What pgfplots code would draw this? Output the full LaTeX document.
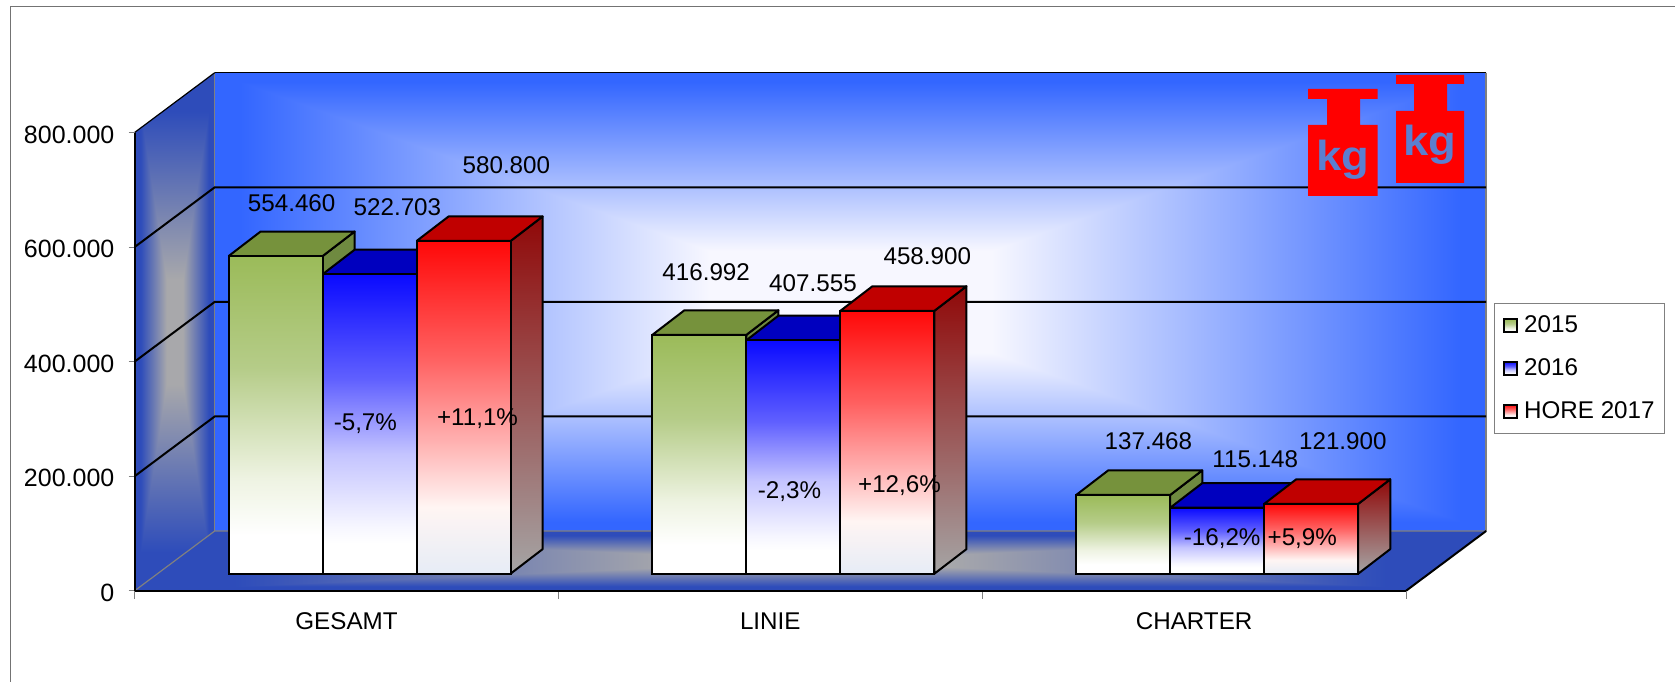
\documentclass[border=0pt]{standalone}
\usepackage{fontspec}
\setmainfont{Liberation Sans}
\usepackage{pgfplots}
\pgfplotsset{compat=1.18}
% colours
\definecolor{gA}{HTML}{9BBB59}\definecolor{gB}{HTML}{B5CC88}\definecolor{gC}{HTML}{EEF3E2}
\definecolor{bA}{HTML}{0A0AFF}\definecolor{bB}{HTML}{6060FF}\definecolor{bC}{HTML}{C4C4FF}\definecolor{bD}{HTML}{F6F6FF}
\definecolor{rA}{HTML}{FF0808}\definecolor{rB}{HTML}{FF6060}\definecolor{rC}{HTML}{FFB0B0}\definecolor{rD}{HTML}{FFF5F3}\definecolor{rE}{HTML}{E6ECF6}
\definecolor{gTop}{HTML}{76923C}\definecolor{gSide}{HTML}{6F8A40}
\definecolor{bTop}{HTML}{0000BF}\definecolor{rTop}{HTML}{C00000}
\definecolor{rSideA}{HTML}{900808}\definecolor{rSideB}{HTML}{A5A5A5}
\definecolor{kgc}{HTML}{5B7FD0}
% t -> 25bp + 50bp*t
\pgfdeclareverticalshading{gbar}{100bp}{color(0bp)=(white);color(31bp)=(white);color(40bp)=(gC);color(57.5bp)=(gB);color(75bp)=(gA);color(100bp)=(gA)}
\pgfdeclareverticalshading{bbar}{100bp}{color(0bp)=(white);color(30bp)=(white);color(33bp)=(bD);color(45bp)=(bC);color(57.5bp)=(bB);color(75bp)=(bA);color(100bp)=(bA)}
\pgfdeclareverticalshading{rbar}{100bp}{color(0bp)=(rE);color(25bp)=(rE);color(35bp)=(rD);color(45bp)=(rC);color(57.5bp)=(rB);color(75bp)=(rA);color(100bp)=(rA)}
\pgfdeclareverticalshading{rside}{100bp}{color(0bp)=(rSideB);color(25bp)=(rSideB);color(75bp)=(rSideA);color(100bp)=(rSideA)}
% rectangular gradients
\pgfdeclarefunctionalshading{wallback}{\pgfpointorigin}{\pgfpoint{100bp}{100bp}}{}{
 50 sub abs 25 div exch 50 sub abs 25 div 2 copy lt {exch} if pop
 0.22 sub 0.74 div dup 0 lt {pop 0} if dup 1 gt {pop 1} if
 dup 0.77 mul 0.97 exch sub exch 0.57 mul 0.97 exch sub 1}
\pgfdeclarefunctionalshading{wallgray}{\pgfpointorigin}{\pgfpoint{100bp}{100bp}}{}{
 50 sub abs 25 div exch 50 sub abs 25 div 2 copy lt {exch} if pop
 0.2 sub 0.65 div dup 0 lt {pop 0} if dup 1 gt {pop 1} if
 dup 0.48 mul 0.66 exch sub exch dup 0.36 mul 0.66 exch sub exch 0.06 mul 0.67 add}
\def\bw{0.2218}\def\ddx{0.0756}\def\ddy{42.9}\def\base{29.84}
\def\lw{1pt}
\newcommand{\frontbar}[3]{%
 \addplot[forget plot,ybar,bar width=\bw,bar shift=0pt,yshift=8.55pt,draw=black,line width=\lw,shading=#3] coordinates {(#1,#2)};}
\newcommand{\topface}[3]{%
 \pgfmathsetmacro\xa{#1}\pgfmathsetmacro\xb{#1+\bw}\pgfmathsetmacro\xc{\xb+\ddx}\pgfmathsetmacro\xd{#1+\ddx}%
 \pgfmathsetmacro\ya{#2+\base}\pgfmathsetmacro\yb{\ya+\ddy}%
 \addplot[forget plot,draw=black,line width=\lw,line join=round,fill=#3] coordinates {(\xa,\ya)(\xb,\ya)(\xc,\yb)(\xd,\yb)(\xa,\ya)};}
\newcommand{\sideface}[3]{%
 \pgfmathsetmacro\xa{#1}\pgfmathsetmacro\xb{#1+\ddx}%
 \pgfmathsetmacro\ya{\base}\pgfmathsetmacro\yb{\base+\ddy}\pgfmathsetmacro\yc{#2+\base}\pgfmathsetmacro\yd{\yc+\ddy}%
 \addplot[forget plot,draw=black,line width=\lw,line join=round,#3] coordinates {(\xa,\ya)(\xb,\yb)(\xb,\yd)(\xa,\yc)(\xa,\ya)};}
\newcommand{\lab}[3]{\node[inner sep=0pt,font=\fontsize{12.1}{14}\selectfont] at ({#1*0.53415pt},{340.5pt-#2*0.53415pt}) {#3};}
\begin{document}
\begin{tikzpicture}
\useasboundingbox (0,0) rectangle (837.5pt,340.5pt);
\draw[gray!90!black,line width=0.5pt] (5.2pt,-2pt) -- (5.2pt,337pt) -- (840pt,337pt);
\begin{axis}[
 at={(67.3pt,45.1pt)},anchor=south west,
 scale only axis,width=635.7pt,height=229.15pt,
 xmin=0,xmax=3,ymin=0,ymax=800,
 clip=false,axis on top,
 axis x line=bottom,axis y line=left,
 axis line style={-,black,line width=1.1pt},
 xtick={0.5,1.5,2.5},xticklabels={GESAMT,LINIE,CHARTER},
 minor xtick={0,1,2,3},
 major x tick style={draw=none},
 ytick={0,200,400,600,800},yticklabels={0,200.000,400.000,600.000,800.000},
 tick style={gray,line width=0.5pt},
 tick align=outside,major tick length=3pt,minor tick length=4pt,
 xticklabel style={yshift=-4.5pt,font=\fontsize{12.1}{14}\selectfont},
 yticklabel style={xshift=-3.6pt,yshift=-1pt,font=\fontsize{12.5}{14}\selectfont},
 legend style={at={(1.0694,0.6273)},anchor=north west,draw=gray,line width=0.5pt,
   font=\fontsize{12.1}{14}\selectfont,inner xsep=4pt,inner ysep=5pt,row sep=9.4pt,column sep=2pt,
   nodes={inner sep=1pt}},
 legend cell align=left,
]
\addlegendimage{legend image code/.code={\draw[black,line width=\lw,shading=gbar] (1pt,-3.3pt) rectangle (7.7pt,3.3pt);}}
\addlegendentry{2015}
\addlegendimage{legend image code/.code={\draw[black,line width=\lw,shading=bbar] (1pt,-3.3pt) rectangle (7.7pt,3.3pt);}}
\addlegendentry{2016}
\addlegendimage{legend image code/.code={\draw[black,line width=\lw,shading=rbar] (1pt,-3.3pt) rectangle (7.7pt,3.3pt);}}
\addlegendentry{HORE 2017}
% floor, back wall, left wall
\addplot[forget plot,draw=none,shading=wallgray] coordinates {(0,0)(3,0)(3.1891,104.43)(0.1891,104.43)(0,0)};
\addplot[forget plot,draw=none,shading=wallback] coordinates {(0.1891,104.43)(3.1891,104.43)(3.1891,904.43)(0.1891,904.43)(0.1891,104.43)};
\addplot[forget plot,draw=none,shading=wallgray] coordinates {(0,0)(0.1891,104.43)(0.1891,904.43)(0,800)(0,0)};
% wall edges
\addplot[forget plot,gray,line width=0.6pt] coordinates {(0,0)(0.1891,104.43)(3.1891,104.43)};
\addplot[forget plot,gray,line width=0.7pt] coordinates {(0.1891,104.43)(0.1891,904.43)};
\addplot[forget plot,gray,line width=0.7pt] coordinates {(3.1891,104.43)(3.1891,904.43)};
\addplot[forget plot,black,line width=0.6pt] coordinates {(0,800)(0.1891,904.43)};
\addplot[forget plot,black,line width=0.8pt] coordinates {(0.1891,904.43)(3.1891,904.43)};
\addplot[forget plot,black,line width=1pt] coordinates {(3,0)(3.1891,104.43)};
% grid lines
\addplot[forget plot,black,line width=1pt] coordinates {(0,200)(0.1891,304.43)(3.1891,304.43)};
\addplot[forget plot,black,line width=1pt] coordinates {(0,400)(0.1891,504.43)(3.1891,504.43)};
\addplot[forget plot,black,line width=1pt] coordinates {(0,600)(0.1891,704.43)(3.1891,704.43)};
% green sides, blue tops and fronts
\sideface{0.4436}{554.460}{fill=gSide}
\sideface{1.4436}{416.992}{fill=gSide}
\sideface{2.4436}{137.468}{fill=gSide}
\topface{0.4436}{522.703}{bTop}
\topface{1.4436}{407.555}{bTop}
\topface{2.4436}{115.148}{bTop}
\frontbar{0.5545}{522.703}{bbar}
\frontbar{1.5545}{407.555}{bbar}
\frontbar{2.5545}{115.148}{bbar}
% green
\topface{0.2218}{554.460}{gTop}
\topface{1.2218}{416.992}{gTop}
\topface{2.2218}{137.468}{gTop}
\frontbar{0.3327}{554.460}{gbar}
\frontbar{1.3327}{416.992}{gbar}
\frontbar{2.3327}{137.468}{gbar}
% red
\sideface{0.8872}{580.800}{shading=rside}
\sideface{1.8872}{458.900}{shading=rside}
\sideface{2.8872}{121.900}{shading=rside}
\topface{0.6654}{580.800}{rTop}
\topface{1.6654}{458.900}{rTop}
\topface{2.6654}{121.900}{rTop}
\frontbar{0.7763}{580.800}{rbar}
\frontbar{1.7763}{458.900}{rbar}
\frontbar{2.7763}{121.900}{rbar}
\end{axis}
% weights
\fill[red] (654pt,296pt) -- (688.8pt,296pt) -- (688.8pt,291pt) -- (680pt,291pt) -- (680pt,278pt) -- (688.8pt,278pt) -- (688.8pt,242.5pt) -- (654pt,242.5pt) -- (654pt,278pt) -- (663.5pt,278pt) -- (663.5pt,291pt) -- (654pt,291pt) -- cycle;
\fill[red] (698pt,303pt) -- (732pt,303pt) -- (732pt,298.5pt) -- (723.5pt,298.5pt) -- (723.5pt,285pt) -- (732pt,285pt) -- (732pt,249pt) -- (698pt,249pt) -- (698pt,285pt) -- (707pt,285pt) -- (707pt,298.5pt) -- (698pt,298.5pt) -- cycle;
\node[inner sep=0pt,text=kgc,xscale=1.08,font=\fontsize{21}{21}\selectfont\bfseries] at (671.5pt,260.5pt) {kg};
\node[inner sep=0pt,text=kgc,xscale=1.08,font=\fontsize{21}{21}\selectfont\bfseries] at (715pt,268pt) {kg};
% value labels
\lab{273}{190}{554.460}\lab{372}{194}{522.703}\lab{474}{155}{580.800}
\lab{661}{255}{416.992}\lab{761}{265}{407.555}\lab{868}{240}{458.900}
\lab{1075}{413}{137.468}\lab{1175}{430}{115.148}\lab{1257}{413}{121.900}
\lab{342}{397}{-5,7\%}\lab{447}{392}{+11,1\%}
\lab{739}{460}{-2,3\%}\lab{842}{455}{+12,6\%}
\lab{1144}{504}{-16,2\%}\lab{1219}{504}{+5,9\%}
\end{tikzpicture}
\end{document}
